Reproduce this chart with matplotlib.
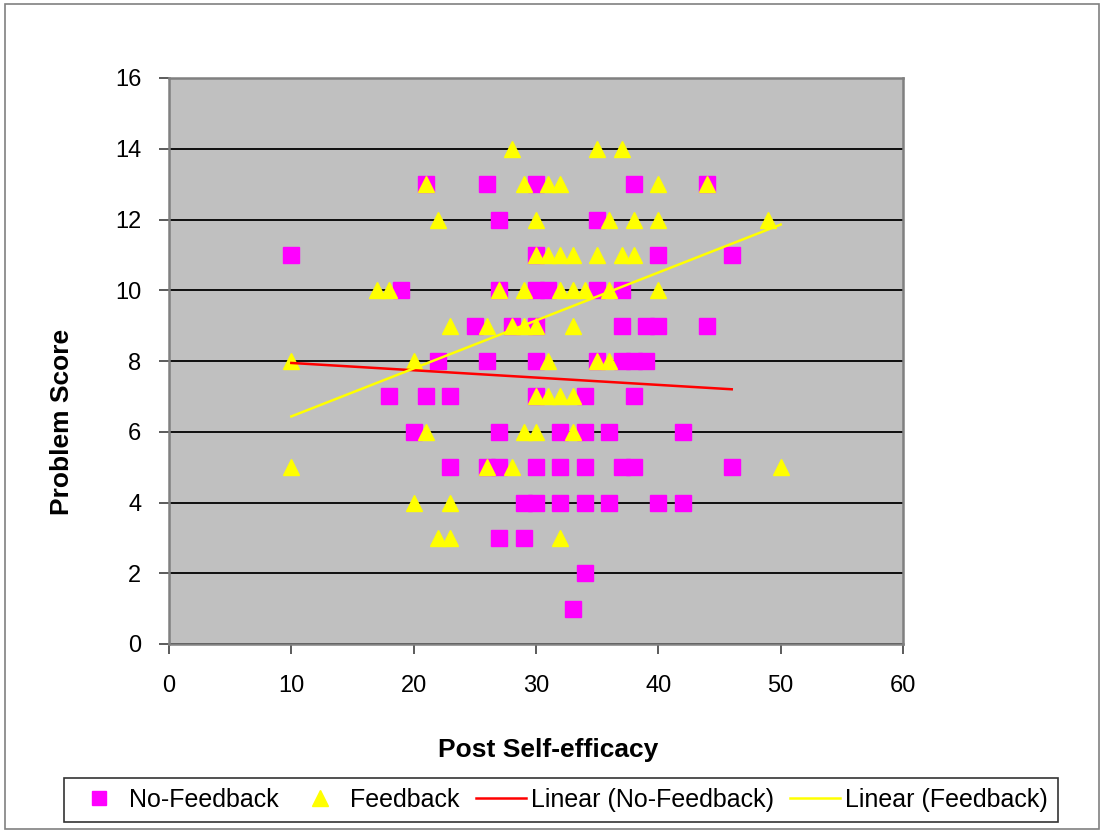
import numpy as np
import matplotlib
matplotlib.use("Agg")
import matplotlib.pyplot as plt
from matplotlib.lines import Line2D
from matplotlib.patches import Rectangle

plt.rcParams['font.family'] = ['Liberation Sans', 'DejaVu Sans']

# No-Feedback (squares)
nf_x = [21, 26, 30, 38, 44,
        27, 35,
        10, 30, 40, 46,
        19, 27, 30, 31, 35, 37,
        25, 28, 30, 37, 39, 40, 44,
        22, 26, 30, 35, 37, 38, 39,
        18, 21, 23, 30, 34, 38,
        20, 27, 32, 34, 36, 42,
        23, 26, 27, 30, 32, 34, 37, 38, 46,
        29, 30, 32, 34, 36, 40, 42,
        27, 29,
        34,
        33]
nf_y = [13, 13, 13, 13, 13,
        12, 12,
        11, 11, 11, 11,
        10, 10, 10, 10, 10, 10,
        9, 9, 9, 9, 9, 9, 9,
        8, 8, 8, 8, 8, 8, 8,
        7, 7, 7, 7, 7, 7,
        6, 6, 6, 6, 6, 6,
        5, 5, 5, 5, 5, 5, 5, 5, 5,
        4, 4, 4, 4, 4, 4, 4,
        3, 3,
        2,
        1]

# Feedback (triangles)
fb_x = [28, 35, 37,
        21, 29, 31, 32, 40, 44,
        22, 30, 36, 38, 40, 49,
        30, 31, 32, 33, 35, 37, 38,
        17, 18, 27, 29, 32, 33, 34, 36, 40,
        23, 26, 28, 29, 30, 33,
        10, 20, 31, 35, 36,
        30, 31, 32, 33,
        21, 29, 30, 33,
        10, 26, 28, 50,
        20, 23,
        22, 23, 32]
fb_y = [14, 14, 14,
        13, 13, 13, 13, 13, 13,
        12, 12, 12, 12, 12, 12,
        11, 11, 11, 11, 11, 11, 11,
        10, 10, 10, 10, 10, 10, 10, 10, 10,
        9, 9, 9, 9, 9, 9,
        8, 8, 8, 8, 8,
        7, 7, 7, 7,
        6, 6, 6, 6,
        5, 5, 5, 5,
        4, 4,
        3, 3, 3]

x_ticks = [0, 10, 20, 30, 40, 50, 60]
y_ticks = [0, 2, 4, 6, 8, 10, 12, 14, 16]

W, H = 1103, 833
fig = plt.figure(figsize=(W / 100, H / 100), dpi=100)
fig.patch.set_facecolor('white')
fig.add_artist(Rectangle((5 / W, 4 / H), 1 - 9 / W, 1 - 8 / H, transform=fig.transFigure,
                         fill=False, edgecolor='#808080', linewidth=1.2))

ax = fig.add_axes([169 / W, 1 - 644 / H, (903 - 169) / W, (644 - 78) / H])
ax.set_facecolor('#C0C0C0')
ax.set_xlim(0, 60)
ax.set_ylim(0, 16)
ax.set_xticks(x_ticks)
ax.set_yticks(y_ticks)
ax.tick_params(axis='both', direction='out', length=7, width=1.2, color='#404040',
               labelsize=17)
ax.tick_params(axis='x', pad=15)
ax.tick_params(axis='y', pad=13)
ax.yaxis.grid(True, color='black', linewidth=1.3)
ax.set_axisbelow(True)
for s in ax.spines.values():
    s.set_color('#808080')
    s.set_linewidth(1.8)

ax.plot(nf_x, nf_y, linestyle='none', marker='s', markersize=11,
        markerfacecolor='#FF00FF', markeredgecolor='#FF00FF', zorder=3)
ax.plot(fb_x, fb_y, linestyle='none', marker='^', markersize=12,
        markerfacecolor='#FFFF00', markeredgecolor='#FFFF00', zorder=4)

nf_x_a = np.array(nf_x, float); nf_y_a = np.array(nf_y, float)
fb_x_a = np.array(fb_x, float); fb_y_a = np.array(fb_y, float)
m1, b1 = np.polyfit(nf_x_a, nf_y_a, 1)
m2, b2 = np.polyfit(fb_x_a, fb_y_a, 1)
xs1 = np.array([nf_x_a.min(), nf_x_a.max()])
xs2 = np.array([fb_x_a.min(), fb_x_a.max()])
ax.plot(xs1, m1 * xs1 + b1, color='#FF0000', linewidth=1.8, zorder=5)
ax.plot(xs2, m2 * xs2 + b2, color='#FFFF00', linewidth=1.8, zorder=5)

fig.text(548 / W, 1 - 750 / H, 'Post Self-efficacy', ha='center', va='center',
         fontsize=19, fontweight='bold')
fig.text(62 / W, 1 - 422 / H, 'Problem Score', ha='center', va='center',
         rotation=90, fontsize=19, fontweight='bold')

handles = [
    Line2D([], [], linestyle='none', marker='s', markersize=10,
           markerfacecolor='#FF00FF', markeredgecolor='#FF00FF'),
    Line2D([], [], linestyle='none', marker='^', markersize=11,
           markerfacecolor='#FFFF00', markeredgecolor='#FFFF00'),
    Line2D([], [], color='#FF0000', linewidth=1.8),
    Line2D([], [], color='#FFFF00', linewidth=1.8),
]
labels = ['No-Feedback', 'Feedback', 'Linear (No-Feedback)', 'Linear (Feedback)']
leg = fig.legend(handles, labels, loc='center', bbox_to_anchor=(561 / W, 1 - 800 / H),
                 ncol=4, fontsize=18, frameon=True, fancybox=False,
                 edgecolor='black', handlelength=2.0, handletextpad=0.2,
                 columnspacing=0.65, borderpad=0.4)
leg.get_frame().set_linewidth(1.2)

fig.savefig('out.png', dpi=100)
